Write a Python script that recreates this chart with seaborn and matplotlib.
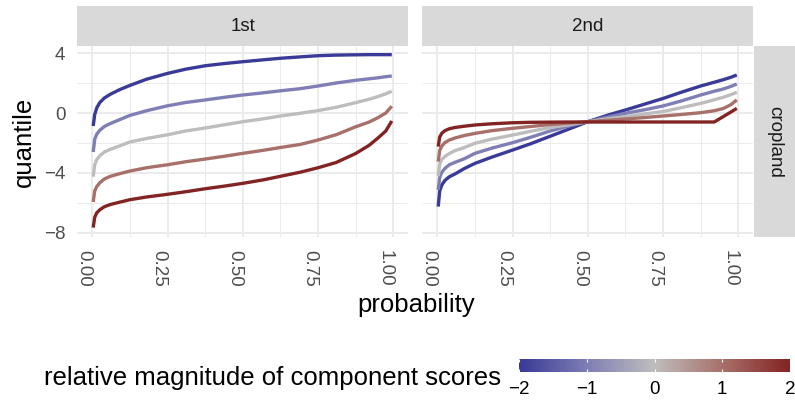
"""
Quantile curves of the first two component scores (cropland)
"""
import numpy as np
import pandas as pd
import matplotlib
matplotlib.use("Agg")
import matplotlib.pyplot as plt
import seaborn as sns
from matplotlib.colors import LinearSegmentedColormap
from matplotlib.ticker import MultipleLocator
from matplotlib.patches import Rectangle

# Data
components = ["1st", "2nd"]
landcover = "cropland"
scores = [-2, -1, 0, 1, 2]
prob = [0.003, 0.008, 0.015, 0.025, 0.04, 0.06, 0.09, 0.125, 0.18, 0.25, 0.31, 0.375,
        0.44, 0.5, 0.57, 0.625, 0.69, 0.75, 0.81, 0.875, 0.92, 0.95, 0.975, 0.995]

# 1st component, one list per relative score
first_m2 = [-0.87, -0.10, 0.35, 0.70, 1.00, 1.25, 1.55, 1.84, 2.25, 2.64, 2.92, 3.15,
            3.30, 3.42, 3.55, 3.65, 3.74, 3.82, 3.86, 3.88, 3.89, 3.89, 3.89, 3.89]
first_m1 = [-2.60, -1.75, -1.40, -1.15, -0.90, -0.70, -0.45, -0.16, 0.15, 0.48, 0.70, 0.87,
            1.05, 1.20, 1.35, 1.48, 1.62, 1.80, 2.00, 2.18, 2.28, 2.35, 2.42, 2.47]
first_0 = [-4.24, -3.45, -3.10, -2.85, -2.60, -2.42, -2.20, -1.93, -1.70, -1.45, -1.20, -1.00,
           -0.78, -0.58, -0.38, -0.20, -0.02, 0.16, 0.38, 0.69, 0.92, 1.10, 1.28, 1.45]
first_p1 = [-5.93, -5.20, -4.90, -4.65, -4.40, -4.22, -4.05, -3.87, -3.65, -3.45, -3.25, -3.07,
            -2.88, -2.69, -2.48, -2.30, -2.10, -1.80, -1.45, -0.92, -0.60, -0.30, 0.00, 0.45]
first_p2 = [-7.64, -6.95, -6.65, -6.45, -6.25, -6.10, -5.95, -5.78, -5.60, -5.42, -5.25, -5.05,
            -4.87, -4.69, -4.45, -4.22, -3.95, -3.65, -3.30, -2.70, -2.15, -1.65, -1.20, -0.53]

# 2nd component
second_m2 = [-6.24, -5.20, -4.80, -4.50, -4.25, -4.05, -3.70, -3.36, -2.95, -2.47, -2.05, -1.55,
             -1.05, -0.58, -0.12, 0.20, 0.60, 0.97, 1.38, 1.80, 2.05, 2.22, 2.38, 2.53]
second_m1 = [-5.13, -4.30, -3.95, -3.70, -3.45, -3.28, -3.05, -2.69, -2.35, -1.98, -1.62, -1.20,
             -0.85, -0.58, -0.25, -0.02, 0.22, 0.47, 0.80, 1.20, 1.45, 1.60, 1.77, 1.93]
second_0 = [-4.20, -3.40, -3.10, -2.90, -2.70, -2.50, -2.30, -2.02, -1.75, -1.47, -1.22, -0.97,
            -0.77, -0.58, -0.38, -0.24, -0.06, 0.10, 0.35, 0.64, 0.88, 1.05, 1.22, 1.38]
second_p1 = [-3.24, -2.50, -2.20, -1.98, -1.80, -1.66, -1.50, -1.36, -1.18, -1.02, -0.90, -0.77,
             -0.67, -0.58, -0.48, -0.40, -0.30, -0.20, -0.10, 0.02, 0.15, 0.30, 0.55, 0.87]
second_p2 = [-2.24, -1.60, -1.35, -1.18, -1.05, -0.96, -0.88, -0.80, -0.72, -0.65, -0.62, -0.61,
             -0.60, -0.60, -0.60, -0.60, -0.60, -0.60, -0.60, -0.60, -0.60, -0.24, 0.06, 0.31]

curves = {
    "1st": [first_m2, first_m1, first_0, first_p1, first_p2],
    "2nd": [second_m2, second_m1, second_0, second_p1, second_p2],
}

rows = []
for comp in components:
    for s, vals in zip(scores, curves[comp]):
        for p, q in zip(prob, vals):
            rows.append({"component": comp, "score": s, "probability": p, "quantile": q})
df = pd.DataFrame(rows)

# Style
sns.set_theme(style="white")
plt.rcParams["font.family"] = ["Liberation Sans", "DejaVu Sans"]
plt.rcParams["lines.solid_capstyle"] = "butt"
plt.rcParams["lines.solid_joinstyle"] = "round"

# muted blue -> grey -> muted red, like gradient2
cmap = LinearSegmentedColormap.from_list(
    "div", ["#3A3A98", "#7F7EB5", "#BEBEBE", "#A8716B", "#832424"])

W, H = 795, 404
fig = plt.figure(figsize=(W / 100, H / 100), dpi=100)
fig.patch.set_facecolor("white")


def box(x0, y0, x1, y1):
    # pixel box (top-left origin) -> figure fraction
    return [x0 / W, 1 - y1 / H, (x1 - x0) / W, (y1 - y0) / H]


STRIP = "#D9D9D9"
GRID = "#EBEBEB"
TICK_COL = "#4D4D4D"
TXT = "#1A1A1A"
panel_x = [(77.25, 408.35), (422.25, 753.35)]
top, bottom = 46, 237

for i, comp in enumerate(components):
    x0, x1 = panel_x[i]
    ax = fig.add_axes(box(x0, top, x1, bottom))
    sns.lineplot(data=df[df["component"] == comp], x="probability", y="quantile",
                 hue="score", palette=cmap, hue_norm=(-2, 2), linewidth=2.4,
                 errorbar=None, legend=False, ax=ax)
    ax.set_xlim(-0.05, 1.05)
    ax.set_ylim(-8.267, 4.467)
    ax.set_xticks([0, 0.25, 0.5, 0.75, 1.0])
    ax.set_xticklabels(["0.00", "0.25", "0.50", "0.75", "1.00"])
    ax.xaxis.set_minor_locator(MultipleLocator(0.125))
    ax.set_yticks([-8, -4, 0, 4])
    ax.yaxis.set_minor_locator(MultipleLocator(2))
    ax.grid(which="major", color=GRID, linewidth=1.4)
    ax.grid(which="minor", color=GRID, linewidth=0.7)
    ax.set_axisbelow(True)
    for sp in ax.spines.values():
        sp.set_visible(False)
    ax.tick_params(which="both", length=0, labelsize=13.5, labelcolor=TICK_COL)
    ax.tick_params(axis="x", pad=9.2)
    ax.tick_params(axis="y", pad=8.6)
    plt.setp(ax.get_xticklabels(), rotation=-90, ha="right", va="top")
    if i > 0:
        ax.set_yticklabels([])
    ax.set_xlabel("")
    ax.set_ylabel("")

    # top strip
    fig.add_artist(Rectangle((x0 / W, 1 - top / H), (x1 - x0) / W, 40 / H,
                             transform=fig.transFigure, facecolor=STRIP, edgecolor="none"))
    fig.text((x0 + x1) / 2 / W, 1 - 26.5 / H, comp, ha="center", va="center",
             fontsize=13.5, color=TXT)

# right strip
fig.add_artist(Rectangle((754 / W, 1 - bottom / H), 41 / W, (bottom - top) / H,
                         transform=fig.transFigure, facecolor=STRIP, edgecolor="none"))
fig.text(775 / W, 1 - 141.5 / H, landcover, rotation=-90, ha="center", va="center",
         fontsize=13.5, color=TXT)

# axis titles
fig.text(24 / W, 1 - 141.5 / H, "quantile", rotation=90, ha="center", va="center",
         fontsize=18.5, color="black")
fig.text(416 / W, 1 - 312 / H, "probability", ha="center", va="baseline",
         fontsize=18.5, color="black")

# colour bar legend
cax = fig.add_axes(box(519, 359, 790, 372))
cax.imshow(np.linspace(-2, 2, 300)[None, :], aspect="auto", cmap=cmap,
           extent=(-2, 2, 0, 1))
for v in scores:
    cax.plot([v, v], [0, 0.2], color="white", linewidth=0.8)
    cax.plot([v, v], [0.8, 1], color="white", linewidth=0.8)
cax.set_xlim(-2, 2)
cax.set_ylim(0, 1)
cax.set_yticks([])
cax.set_xticks(scores)
cax.set_xticklabels([str(s).replace("-", "\u2212") for s in scores])
cax.tick_params(length=0, labelsize=13.5, labelcolor="black", pad=6.5)
for sp in cax.spines.values():
    sp.set_visible(False)

fig.text(44 / W, 1 - 385 / H, "relative magnitude of component scores",
         ha="left", va="baseline", fontsize=18.5, color="black")

fig.savefig("out.png", dpi=100, facecolor="white")
